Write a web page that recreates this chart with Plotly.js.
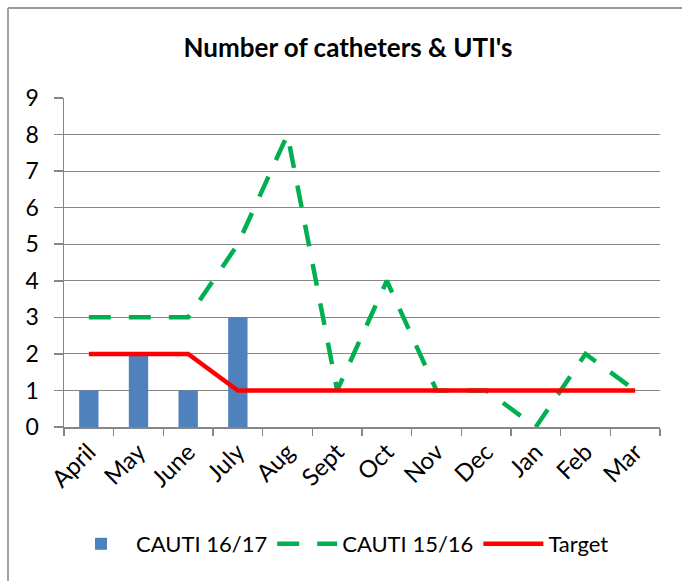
<!DOCTYPE html>
<html>
<head>
<meta charset="utf-8">
<script src="https://cdn.plot.ly/plotly-3.0.1.min.js"></script>
<style>
html,body{margin:0;padding:0;background:#fff;}
#chart{width:682px;height:581px;}
</style>
</head>
<body>
<div id="chart"></div>
<script>
const months = ['April','May','June','July','Aug','Sept','Oct','Nov','Dec','Jan','Feb','Mar'];
const cauti1617 = [1, 2, 1, 3, null, null, null, null, null, null, null, null];
const cauti1516 = [3, 3, 3, 5, 8, 1, 4, 1, 1, 0, 2, 1];
const target = [2, 2, 2, 1, 1, 1, 1, 1, 1, 1, 1, 1];
const yTicks = [0,1,2,3,4,5,6,7,8,9];

const W = 682, H = 581;
const m = {l: 64, r: 22, t: 98, b: 154};
const pw = W - m.l - m.r, ph = H - m.t - m.b;
const px = v => (v - m.l) / pw;
const py = v => (H - m.b - v) / ph;

const font = 'Lato, "Open Sans", "DejaVu Sans", sans-serif';

const traces = [
  {type: 'bar', name: 'CAUTI 16/17', x: months, y: cauti1617,
   marker: {color: '#4F81BD'}, width: 0.39},
  {type: 'scatter', mode: 'lines', name: 'CAUTI 15/16', x: months, y: cauti1516,
   line: {color: '#00B050', width: 4.5, dash: '22px,18px'}},
  {type: 'scatter', mode: 'lines', name: 'Target', x: months, y: target,
   line: {color: '#FF0000', width: 4.5}}
];

const layout = {
  width: W, height: H,
  margin: m,
  paper_bgcolor: '#fff', plot_bgcolor: '#fff',
  font: {family: font, size: 22, color: '#000'},
  title: {text: "<b>Number of catheters &amp; UTI's</b>", font: {family: font, size: 26, color: '#000'},
          x: px(348), xanchor: 'center', xref: 'paper', y: 1 - 48 / H, yanchor: 'middle', yref: 'container'},
  showlegend: true,
  legend: {orientation: 'h', x: px(340), xanchor: 'center', y: py(544), yanchor: 'middle',
           font: {family: font, size: 22, color: '#000'}, itemwidth: 60, traceorder: 'normal',
           bgcolor: 'rgba(0,0,0,0)'},
  xaxis: {type: 'category', categoryorder: 'array', categoryarray: months,
          range: [-0.5, 11.5], showline: true, linecolor: '#868686', linewidth: 1.5,
          ticks: 'outside', tickson: 'boundaries', ticklen: 7, tickcolor: '#868686', tickwidth: 1.5,
          tickangle: -45, showgrid: false, zeroline: false,
          tickfont: {family: font, size: 24, color: '#000'}},
  yaxis: {range: [0, 9], tickvals: yTicks, showline: true, linecolor: '#868686', linewidth: 1.5,
          ticks: 'outside', ticklen: 9, tickcolor: '#868686', tickwidth: 1.5,
          showgrid: true, gridcolor: '#868686', gridwidth: 1.2, zeroline: false,
          ticklabelstandoff: 10,
          tickfont: {family: font, size: 23, color: '#000'}},
  shapes: [
    {type: 'line', xref: 'paper', yref: 'paper', x0: px(8), x1: px(W + 5), y0: py(8), y1: py(8),
     line: {color: '#9a9a9a', width: 1.8}},
    {type: 'line', xref: 'paper', yref: 'paper', x0: px(8), x1: px(8), y0: py(8), y1: py(H + 5),
     line: {color: '#9a9a9a', width: 1.8}}
  ]
};

Plotly.newPlot('chart', traces, layout, {displayModeBar: false, staticPlot: true});
</script>
</body>
</html>
